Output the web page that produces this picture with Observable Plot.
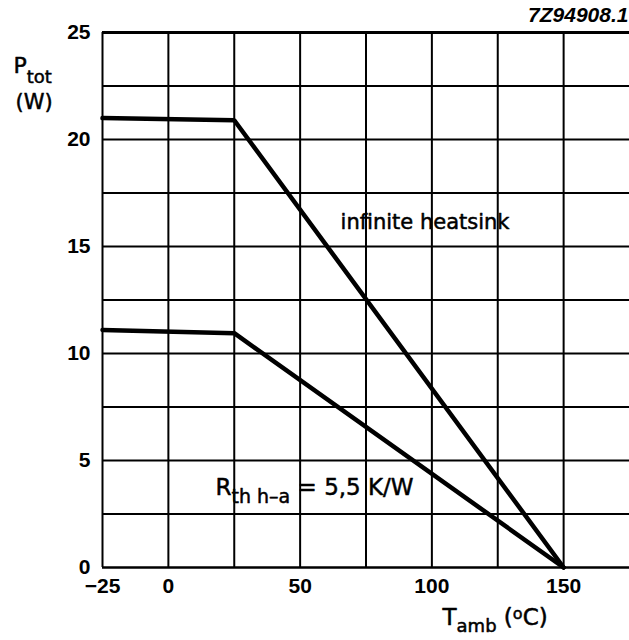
<!DOCTYPE html>
<html>
<head>
<meta charset="utf-8">
<script src="https://cdn.jsdelivr.net/npm/d3@7"></script>
<script src="https://cdn.jsdelivr.net/npm/@observablehq/plot@0.6"></script>
<style>
  html, body { margin: 0; padding: 0; background: #fff; }
  #chart svg { display: block; }
</style>
</head>
<body>
<div id="chart"></div>
<script>
// Data
const tamb = [-25, 25, 150];                 // ambient temperature (°C)
const infiniteHeatsink = [21.0, 20.9, 0];    // P_tot (W), infinite heatsink
const rth55 = [11.1, 10.95, 0];              // P_tot (W), R_th h-a = 5,5 K/W
const xTicks = [-25, 0, 50, 100, 150];
const yTicks = [0, 5, 10, 15, 20, 25];
const xGrid = [-25, 0, 25, 50, 75, 100, 125, 150];
const yGrid = [2.5, 5, 7.5, 10, 12.5, 15, 17.5, 20, 22.5];

const rows = [
  ...tamb.map((t, i) => ({t, p: infiniteHeatsink[i], s: "inf"})),
  ...tamb.map((t, i) => ({t, p: rth55[i], s: "rth"}))
];

const font = "'Liberation Sans', Arial, Helvetica, sans-serif";
const labelFont = "'DejaVu Sans', Verdana, sans-serif";
const heavy = {stroke: "#000", strokeWidth: 0.5, fill: "#000"};

const plot = Plot.plot({
  width: 629,
  height: 640,
  marginLeft: 102,
  marginRight: 0,
  marginTop: 32,
  marginBottom: 73,
  style: {fontFamily: font, fontSize: "22px", fontWeight: "bold", color: "#000", background: "#fff"},
  x: {domain: [-25, 175]},
  y: {domain: [0, 25]},
  marks: [
    Plot.ruleX(xGrid, {stroke: "#000", strokeWidth: 2}),
    Plot.ruleY(yGrid, {stroke: "#000", strokeWidth: 2}),
    Plot.ruleY([0], {stroke: "#000", strokeWidth: 2.5}),
    Plot.ruleY([25], {stroke: "#000", strokeWidth: 3}),
    Plot.axisX({ticks: xTicks, tickSize: 0, tickPadding: 11, label: null, fontSize: 21, fontWeight: "bold"}),
    Plot.axisY({ticks: yTicks, tickSize: 0, tickPadding: 12, label: null, fontSize: 21, fontWeight: "bold"}),
    Plot.line(rows, {x: "t", y: "p", z: "s", stroke: "#000", strokeWidth: 4.5, strokeLinejoin: "miter"}),
    Plot.text(["infinite heatsink"], {x: 97.4, y: 16.15, text: d => d, fontFamily: labelFont, fontSize: 21, fontWeight: "normal", textAnchor: "middle", lineAnchor: "middle", ...heavy}),
    Plot.text(["R"], {x: 17.9, y: 3.71, text: d => d, fontFamily: labelFont, fontSize: 23, fontWeight: "normal", textAnchor: "start", lineAnchor: "middle", className: "rth-label", ...heavy}),
    Plot.text(["P"], {frameAnchor: "top-left", dx: -89, dy: 33, text: d => d, fontFamily: labelFont, fontSize: 22, fontWeight: "normal", textAnchor: "start", lineAnchor: "middle", className: "ptot-label", ...heavy}),
    Plot.text(["(W)"], {frameAnchor: "top-left", dx: -87, dy: 70, text: d => d, fontFamily: labelFont, fontSize: 21, fontWeight: "normal", textAnchor: "start", lineAnchor: "middle", ...heavy}),
    Plot.text(["T"], {frameAnchor: "bottom-left", dx: 340, dy: 50.5, text: d => d, fontFamily: labelFont, fontSize: 23, fontWeight: "normal", textAnchor: "start", lineAnchor: "middle", className: "tamb-label", ...heavy}),
    Plot.text(["7Z94908.1"], {frameAnchor: "top-right", dx: -1, dy: -17, text: d => d, fontSize: 21, fontWeight: "bold", fontStyle: "italic", textAnchor: "end", lineAnchor: "middle"})
  ]
});

const svg = d3.select(plot);
// P_tot
svg.selectAll(".ptot-label text").each(function() {
  const t = d3.select(this).text(null);
  t.append("tspan").text("P");
  t.append("tspan").attr("dy", 10).attr("font-size", 18).text("tot");
});
// T_amb (°C)
svg.selectAll(".tamb-label text").each(function() {
  const t = d3.select(this).text(null);
  t.append("tspan").text("T");
  t.append("tspan").attr("dy", 7).attr("font-size", 18).text("amb");
  t.append("tspan").attr("dy", -7).text(" (");
  t.append("tspan").attr("dy", -6).attr("font-size", 16).text("o");
  t.append("tspan").attr("dy", 6).text("C)");
});
// R_th h-a = 5,5 K/W
svg.selectAll(".rth-label text").each(function() {
  const t = d3.select(this).text(null);
  t.append("tspan").text("R");
  t.append("tspan").attr("dy", 8).attr("font-size", 19).text("th h\u2013a");
  t.append("tspan").attr("dy", -8).text(" = 5,5 K/W");
});

document.getElementById("chart").appendChild(plot);
</script>
</body>
</html>
